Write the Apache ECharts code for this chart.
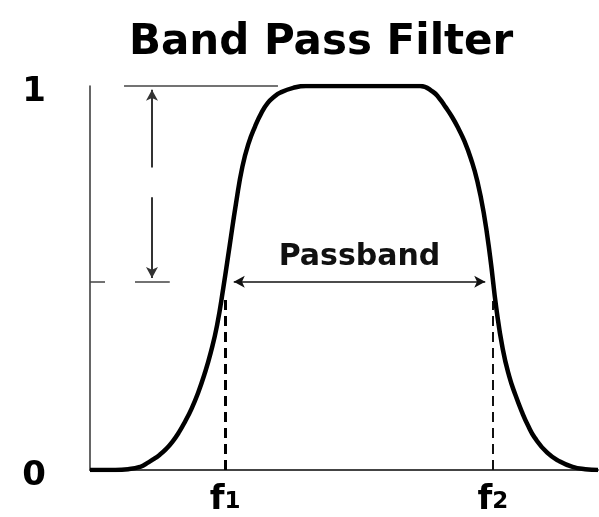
<!DOCTYPE html>
<html><head><meta charset="utf-8">
<script src="https://cdn.jsdelivr.net/npm/echarts@6/dist/echarts.min.js"></script>
<style>html,body{margin:0;padding:0;background:#fff}#c{width:599px;height:517px}</style>
</head><body><div id="c"></div>
<script>
// frequency (arbitrary units 0..100) and normalized gain
const freq = [0, 2.5, 5, 7.5, 10, 11.25, 12.5, 13.75, 15, 16.25, 17.5, 18.75, 20, 21.25, 22.5, 23.75, 25, 26.25, 27.5, 28.75, 30, 31.25, 32.5, 33.75, 35, 36.25, 37.5, 40, 42.5, 50, 57.5, 65, 67.5, 68.75, 70, 71.25, 72.5, 73.75, 75, 76.25, 77.5, 78.75, 80, 81.25, 82.5, 83.75, 85, 86.25, 87.5, 90, 92.5, 95, 97.5, 100];
const gain = [0, 0, 0, 0.002, 0.009, 0.018, 0.028, 0.04, 0.055, 0.074, 0.098, 0.127, 0.16, 0.2, 0.248, 0.305, 0.376, 0.475, 0.585, 0.695, 0.79, 0.852, 0.895, 0.93, 0.956, 0.972, 0.983, 0.995, 1, 1, 1, 1, 0.985, 0.968, 0.945, 0.92, 0.89, 0.855, 0.81, 0.752, 0.67, 0.557, 0.42, 0.315, 0.245, 0.195, 0.152, 0.115, 0.085, 0.045, 0.022, 0.008, 0.002, 0];
const yTicks = [0, 1];
const yTickLabels = ['0', '1'];
const cutoffs = [26.6, 79.3];
const cutoffLabels = ['f{s|1}', 'f{s|2}'];
const halfLevel = 0.49;
const passbandLabel = 'Passband';
const titleText = 'Band Pass Filter';

const F = '"DejaVu Sans", sans-serif';
const pts = freq.map((f, i) => [f, gain[i]]);

const chart = echarts.init(document.getElementById('c'));
chart.setOption({
  animation: false,
  title: {
    text: titleText, left: 124, top: 17,
    textStyle: { fontFamily: F, fontWeight: 'bold', fontSize: 42, color: '#000' }
  },
  grid: { left: 90, right: 1, top: 86, bottom: 45 },
  xAxis: {
    type: 'value', min: 0, max: 100,
    axisLine: { show: true, lineStyle: { color: '#444', width: 2 } },
    axisTick: { show: false },
    splitLine: { show: false },
    axisLabel: {
      customValues: cutoffs,
      margin: 13,
      formatter: v => cutoffLabels[cutoffs.indexOf(v)] || '',
      fontFamily: F, fontWeight: 'bold', fontSize: 34, color: '#000',
      rich: { s: { fontFamily: F, fontWeight: 'bold', fontSize: 23, lineHeight: 23, color: '#000', verticalAlign: 'bottom', padding: [0, 0, 3, 0] } }
    }
  },
  yAxis: {
    type: 'value', min: 0, max: 1, interval: 1,
    axisLine: { show: true, lineStyle: { color: '#333', width: 1.5 } },
    axisTick: { show: false },
    splitLine: { show: false },
    axisLabel: {
      margin: 44,
      formatter: v => '{n|' + yTickLabels[yTicks.indexOf(v)] + '}',
      rich: { n: { fontFamily: F, fontWeight: 'bold', fontSize: 34, color: '#000', padding: [13, 0, 0, 0] } }
    }
  },
  series: [
    {
      type: 'line', data: pts, smooth: 0.5, symbol: 'none',
      lineStyle: { color: '#000', width: 4.5 },
      z: 5,
      markLine: {
        silent: true, animation: false,
        label: { show: false },
        symbolSize: [9, 11],
        data: [
          [{ coord: [6.7, 1], symbol: 'none', lineStyle: { color: '#444', width: 1.5, type: 'solid' } },
           { coord: [37, 1], symbol: 'none' }],
          [{ coord: [0, halfLevel], symbol: 'none', lineStyle: { color: '#444', width: 1.5, type: [15, 30, 35] } },
           { coord: [15.7, halfLevel], symbol: 'none' }],
          [{ coord: [12.2, 0.99], symbol: 'arrow', lineStyle: { color: '#333', width: 2, type: 'solid' } },
           { coord: [12.2, 0.788], symbol: 'none' }],
          [{ coord: [12.2, 0.71], symbol: 'none', lineStyle: { color: '#333', width: 2, type: 'solid' } },
           { coord: [12.2, 0.5], symbol: 'arrow' }],
          [{ coord: [28.3, halfLevel], symbol: 'arrow', lineStyle: { color: '#111', width: 1.5, type: 'solid' },
             label: { show: true, position: 'insideMiddleTop', distance: 10, formatter: passbandLabel,
                      fontFamily: F, fontWeight: 'bold', fontSize: 30, color: '#111' } },
           { coord: [77.8, halfLevel], symbol: 'arrow' }],
          [{ coord: [cutoffs[0], 0], symbol: 'none', lineStyle: { color: '#000', width: 3, type: [10, 6] } },
           { coord: [cutoffs[0], 0.445], symbol: 'none' }],
          [{ coord: [cutoffs[1], 0], symbol: 'none', lineStyle: { color: '#111', width: 2, type: [10, 6] } },
           { coord: [cutoffs[1], 0.44], symbol: 'none' }]
        ]
      }
    }
  ]
});
</script></body></html>
